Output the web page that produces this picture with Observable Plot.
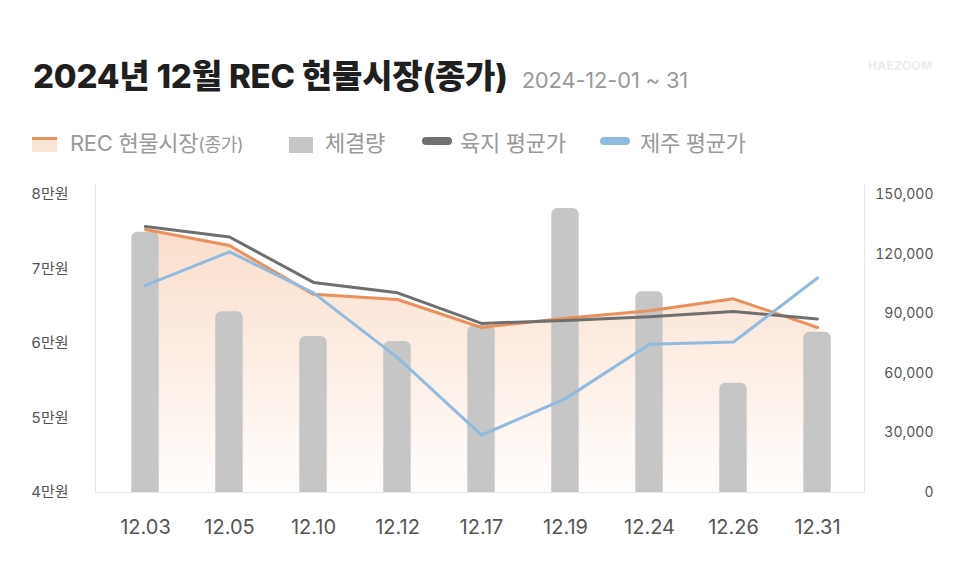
<!DOCTYPE html>
<html>
<head>
<meta charset="utf-8">
<script src="https://cdn.jsdelivr.net/npm/d3@7"></script>
<script src="https://cdn.jsdelivr.net/npm/@observablehq/plot@0.6"></script>
<style>
  html, body { margin: 0; padding: 0; background: #fff; }
  body { width: 966px; height: 564px; position: relative; overflow: hidden;
         font-family: Inter, "Noto Sans CJK KR", sans-serif; }
  .abs { position: absolute; white-space: nowrap; }
  #title { left: 33px; top: 60px; font-size: 33px; line-height: 32px; font-weight: 800; color: #1f1f1f; letter-spacing: -0.2px; }
  #title .sub { font-size: 22px; font-weight: 400; color: #9a9a9a; letter-spacing: -0.2px; margin-left: 14px; }
  #wm { left: 868px; top: 58px; font-size: 12px; font-weight: 700; color: #ececec; letter-spacing: 0.3px; }
  .lg { font-size: 22px; color: #999; line-height: 24px; top: 131px; letter-spacing: -0.3px; }
  .lg small { font-size: 18px; }
  #chart { position: absolute; left: 0; top: 170px; }
</style>
</head>
<body>
<div id="title" class="abs">2024년 12월 REC 현물시장(종가)<span class="sub">2024-12-01 ~ 31</span></div>
<div id="wm" class="abs">HAEZOOM</div>

<div class="abs" style="left:32px;top:137px;width:25px;height:12px;background:#fde5d6;border-top:3px solid #e8915c;"></div>
<div class="abs lg" style="left:70px;">REC 현물시장<small>(종가)</small></div>
<div class="abs" style="left:289px;top:137px;width:24px;height:16px;background:#c6c6c6;"></div>
<div class="abs lg" style="left:325px;">체결량</div>
<div class="abs" style="left:422px;top:137px;width:30px;height:8px;border-radius:4px;background:#707070;"></div>
<div class="abs lg" style="left:460px;">육지 평균가</div>
<div class="abs" style="left:600px;top:137px;width:30px;height:8px;border-radius:4px;background:#8fbbe0;"></div>
<div class="abs lg" style="left:640px;">제주 평균가</div>

<div id="chart"></div>
<script>
// ---- data ----
const dates  = ["12.03","12.05","12.10","12.12","12.17","12.19","12.24","12.26","12.31"];
const recClose = [75300, 73150, 66600, 65900, 62150, 63400, 64400, 66000, 62150]; // REC 현물시장(종가), 원
const landAvg  = [75700, 74300, 68200, 66800, 62700, 63100, 63600, 64300, 63300]; // 육지 평균가
const jejuAvg  = [67800, 72300, 66800, 58100, 47700, 52600, 59900, 60200, 68800]; // 제주 평균가
const volume   = [131000, 91000, 78500, 76000, 84000, 143000, 101000, 55000, 80700]; // 체결량
const priceTicks  = [40000, 50000, 60000, 70000, 80000];
const volumeTicks = [0, 30000, 60000, 90000, 120000, 150000];

// dual-axis mapping: volume [0,150000] -> price [40000,80000]
const P0 = 40000, P1 = 80000, V1 = 150000;
const toPrice = v => P0 + v * (P1 - P0) / V1;
const fromPrice = p => (p - P0) * V1 / (P1 - P0);

const rows = dates.map((d, i) => ({
  date: d, rec: recClose[i], land: landAvg[i], jeju: jejuAvg[i], volP: toPrice(volume[i])
}));

const gradient = () => {
  const ns = "http://www.w3.org/2000/svg";
  const defs = document.createElementNS(ns, "defs");
  defs.innerHTML = '<linearGradient id="recGrad" x1="0" y1="0" x2="0" y2="1">' +
    '<stop offset="0" stop-color="#f7c3a2" stop-opacity="0.55"/>' +
    '<stop offset="1" stop-color="#f7c3a2" stop-opacity="0.03"/></linearGradient>';
  return defs;
};

const axisStyle = {tickSize: 0, fontSize: 15, color: "#555", label: null};

const chart = Plot.plot({
  width: 966,
  height: 394,
  marginLeft: 95,
  marginRight: 102,
  marginTop: 13,
  marginBottom: 72,
  style: {fontFamily: 'Inter, "Noto Sans CJK KR", sans-serif', background: "transparent", color: "#555"},
  x: {type: "band", domain: dates, padding: 0, insetLeft: 5, insetRight: 3, axis: null},
  y: {domain: [P0, P1], insetTop: 11, axis: null},
  marks: [
    gradient,
    Plot.areaY(rows, {x: "date", y1: P0, y2: "rec", fill: "url(#recGrad)"}),
    Plot.barY(rows, {x: "date", y1: 38000, y2: "volP", fill: "#c6c6c6", rx: 6,
                     insetLeft: 28.3, insetRight: 28.3, clip: true}),
    Plot.frame({anchor: "left", stroke: "#e9e9e9"}),
    Plot.frame({anchor: "right", stroke: "#e9e9e9"}),
    Plot.frame({anchor: "bottom", stroke: "#e6e6e6"}),
    Plot.lineY(rows, {x: "date", y: "rec", stroke: "#e8915c", strokeWidth: 3}),
    Plot.lineY(rows, {x: "date", y: "land", stroke: "#6f6f6f", strokeWidth: 3}),
    Plot.lineY(rows, {x: "date", y: "jeju", stroke: "#8fbbe0", strokeWidth: 3}),
    Plot.axisY({...axisStyle, anchor: "left", ticks: priceTicks, tickPadding: 27,
                tickFormat: d => (d / 10000) + "만원"}),
    Plot.axisY({...axisStyle, anchor: "right", fontSize: 14, ticks: volumeTicks.map(toPrice), tickPadding: 69,
                textAnchor: "end", tickFormat: p => d3.format(",")(Math.round(fromPrice(p)))}),
    Plot.axisX({...axisStyle, anchor: "bottom", fontSize: 20, tickPadding: 27})
  ]
});
document.getElementById("chart").appendChild(chart);
</script>
</body>
</html>
